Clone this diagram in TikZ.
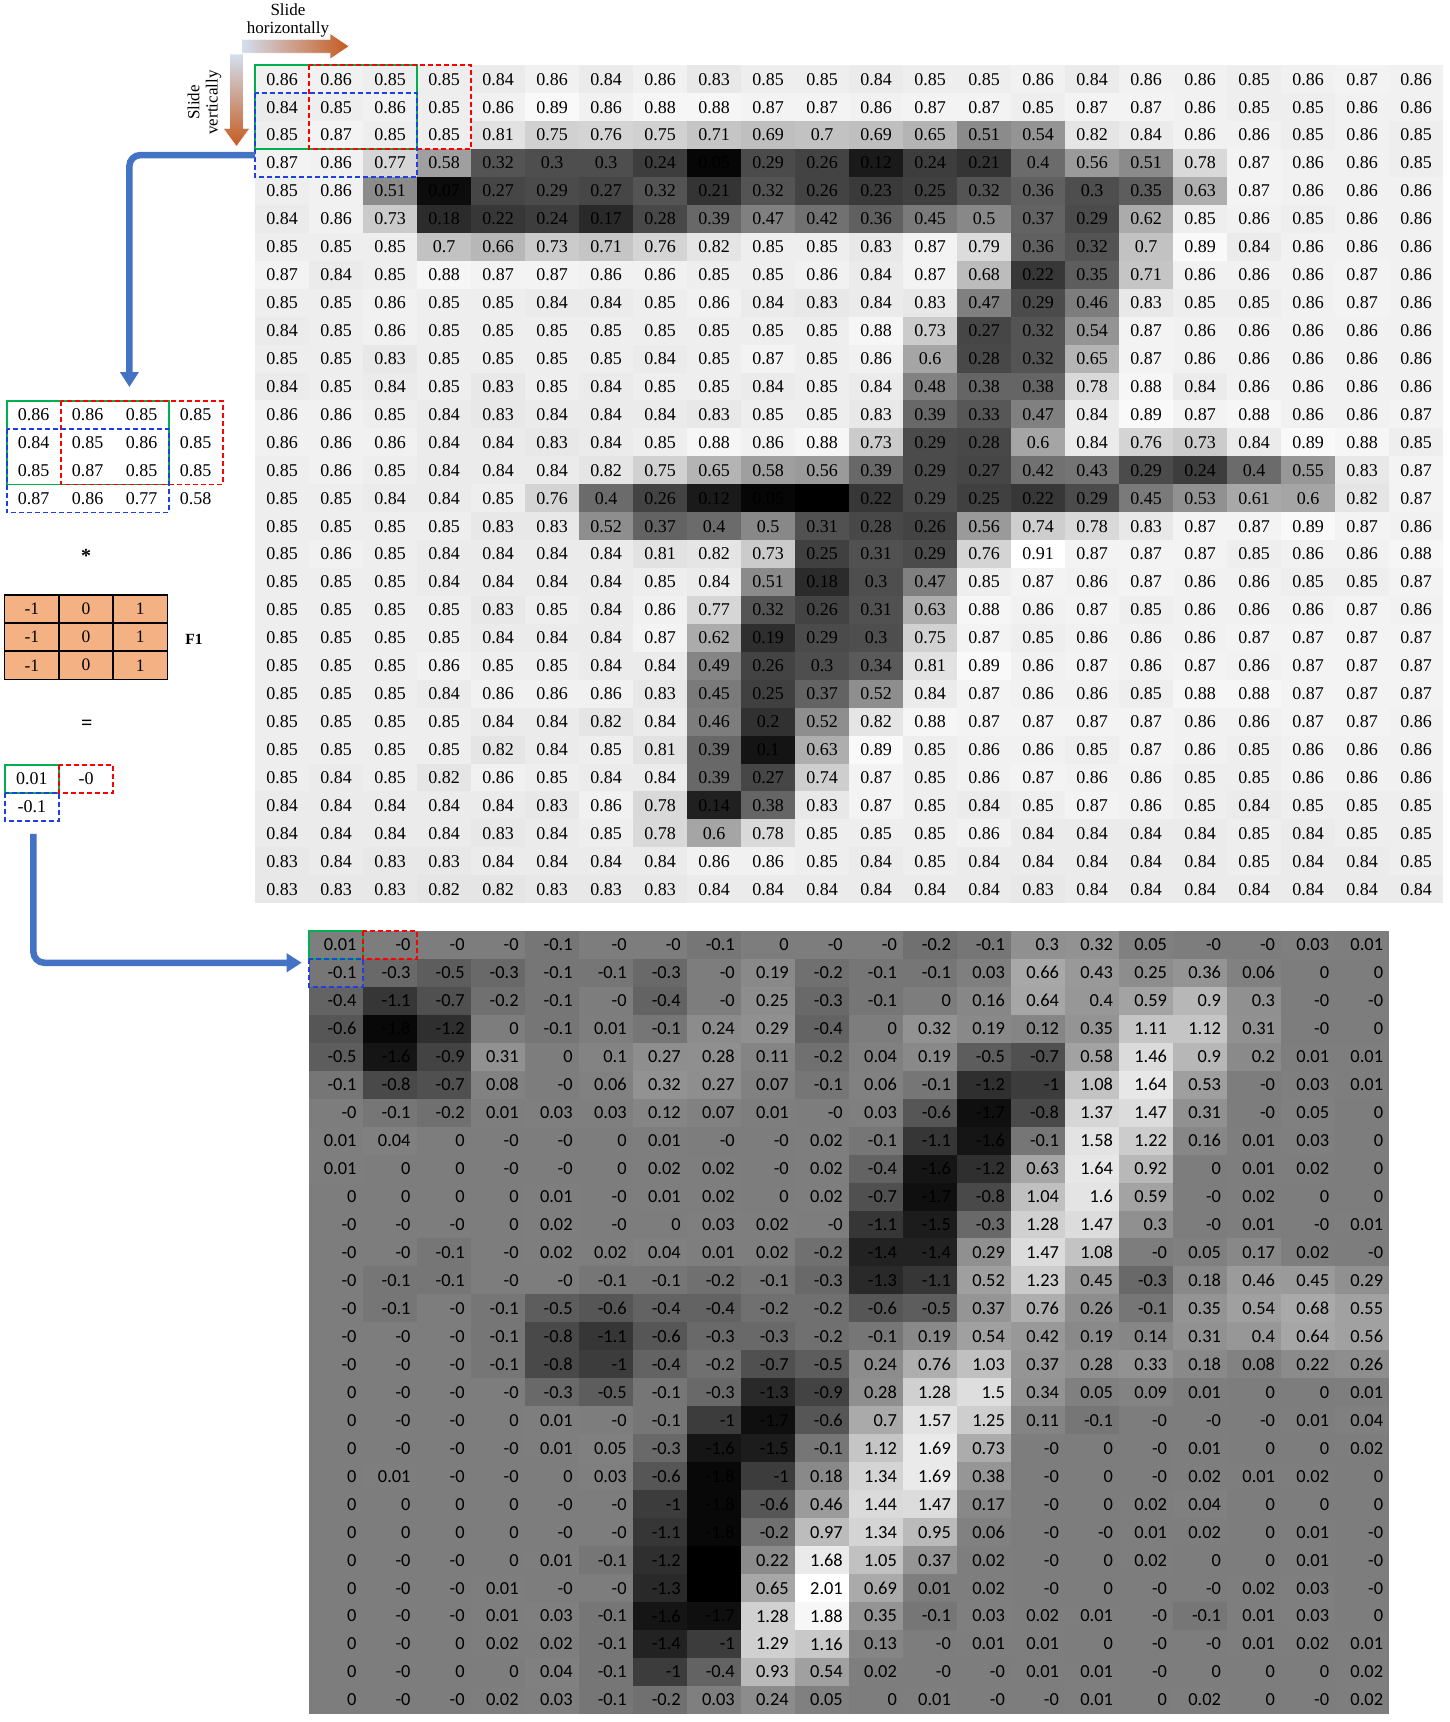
\documentclass[tikz,border=0pt]{standalone}
\usepackage{fontspec}
\setmainfont{Liberation Serif}
\newfontfamily\calib{Carlito}
\usetikzlibrary{arrows.meta}
\definecolor{arrowblue}{HTML}{4472C4}
\definecolor{filterc}{HTML}{F4B183}
\definecolor{boxgreen}{HTML}{00B050}
\definecolor{boxred}{HTML}{FF0000}
\definecolor{boxblue}{HTML}{1F3FE0}
\definecolor{gradlight}{HTML}{D3DFF0}
\definecolor{gradmid}{HTML}{9DB9DF}
\definecolor{gradorange}{HTML}{C55A1E}
\def\hidmark{h}
\def\topdata{%
{0.86,0.86,0.85,0.85,0.84,0.86,0.84,0.86,0.83,0.85,0.85,0.84,0.85,0.85,0.86,0.84,0.86,0.86,0.85,0.86,0.87,0.86},
{0.84,0.85,0.86,0.85,0.86,0.89,0.86,0.88,0.88,0.87,0.87,0.86,0.87,0.87,0.85,0.87,0.87,0.86,0.85,0.85,0.86,0.86},
{0.85,0.87,0.85,0.85,0.81,0.75,0.76,0.75,0.71,0.69,0.7,0.69,0.65,0.51,0.54,0.82,0.84,0.86,0.86,0.85,0.86,0.85},
{0.87,0.86,0.77,0.58,0.32,0.3,0.3,0.24,0.05,0.29,0.26,0.12,0.24,0.21,0.4,0.56,0.51,0.78,0.87,0.86,0.86,0.85},
{0.85,0.86,0.51,0.07,0.27,0.29,0.27,0.32,0.21,0.32,0.26,0.23,0.25,0.32,0.36,0.3,0.35,0.63,0.87,0.86,0.86,0.86},
{0.84,0.86,0.73,0.18,0.22,0.24,0.17,0.28,0.39,0.47,0.42,0.36,0.45,0.5,0.37,0.29,0.62,0.85,0.86,0.85,0.86,0.86},
{0.85,0.85,0.85,0.7,0.66,0.73,0.71,0.76,0.82,0.85,0.85,0.83,0.87,0.79,0.36,0.32,0.7,0.89,0.84,0.86,0.86,0.86},
{0.87,0.84,0.85,0.88,0.87,0.87,0.86,0.86,0.85,0.85,0.86,0.84,0.87,0.68,0.22,0.35,0.71,0.86,0.86,0.86,0.87,0.86},
{0.85,0.85,0.86,0.85,0.85,0.84,0.84,0.85,0.86,0.84,0.83,0.84,0.83,0.47,0.29,0.46,0.83,0.85,0.85,0.86,0.87,0.86},
{0.84,0.85,0.86,0.85,0.85,0.85,0.85,0.85,0.85,0.85,0.85,0.88,0.73,0.27,0.32,0.54,0.87,0.86,0.86,0.86,0.86,0.86},
{0.85,0.85,0.83,0.85,0.85,0.85,0.85,0.84,0.85,0.87,0.85,0.86,0.6,0.28,0.32,0.65,0.87,0.86,0.86,0.86,0.86,0.86},
{0.84,0.85,0.84,0.85,0.83,0.85,0.84,0.85,0.85,0.84,0.85,0.84,0.48,0.38,0.38,0.78,0.88,0.84,0.86,0.86,0.86,0.86},
{0.86,0.86,0.85,0.84,0.83,0.84,0.84,0.84,0.83,0.85,0.85,0.83,0.39,0.33,0.47,0.84,0.89,0.87,0.88,0.86,0.86,0.87},
{0.86,0.86,0.86,0.84,0.84,0.83,0.84,0.85,0.88,0.86,0.88,0.73,0.29,0.28,0.6,0.84,0.76,0.73,0.84,0.89,0.88,0.85},
{0.85,0.86,0.85,0.84,0.84,0.84,0.82,0.75,0.65,0.58,0.56,0.39,0.29,0.27,0.42,0.43,0.29,0.24,0.4,0.55,0.83,0.87},
{0.85,0.85,0.84,0.84,0.85,0.76,0.4,0.26,0.12,0.05,h,0.22,0.29,0.25,0.22,0.29,0.45,0.53,0.61,0.6,0.82,0.87},
{0.85,0.85,0.85,0.85,0.83,0.83,0.52,0.37,0.4,0.5,0.31,0.28,0.26,0.56,0.74,0.78,0.83,0.87,0.87,0.89,0.87,0.86},
{0.85,0.86,0.85,0.84,0.84,0.84,0.84,0.81,0.82,0.73,0.25,0.31,0.29,0.76,0.91,0.87,0.87,0.87,0.85,0.86,0.86,0.88},
{0.85,0.85,0.85,0.84,0.84,0.84,0.84,0.85,0.84,0.51,0.18,0.3,0.47,0.85,0.87,0.86,0.87,0.86,0.86,0.85,0.85,0.87},
{0.85,0.85,0.85,0.85,0.83,0.85,0.84,0.86,0.77,0.32,0.26,0.31,0.63,0.88,0.86,0.87,0.85,0.86,0.86,0.86,0.87,0.86},
{0.85,0.85,0.85,0.85,0.84,0.84,0.84,0.87,0.62,0.19,0.29,0.3,0.75,0.87,0.85,0.86,0.86,0.86,0.87,0.87,0.87,0.87},
{0.85,0.85,0.85,0.86,0.85,0.85,0.84,0.84,0.49,0.26,0.3,0.34,0.81,0.89,0.86,0.87,0.86,0.87,0.86,0.87,0.87,0.87},
{0.85,0.85,0.85,0.84,0.86,0.86,0.86,0.83,0.45,0.25,0.37,0.52,0.84,0.87,0.86,0.86,0.85,0.88,0.88,0.87,0.87,0.87},
{0.85,0.85,0.85,0.85,0.84,0.84,0.82,0.84,0.46,0.2,0.52,0.82,0.88,0.87,0.87,0.87,0.87,0.86,0.86,0.87,0.87,0.86},
{0.85,0.85,0.85,0.85,0.82,0.84,0.85,0.81,0.39,0.1,0.63,0.89,0.85,0.86,0.86,0.85,0.87,0.86,0.85,0.86,0.86,0.86},
{0.85,0.84,0.85,0.82,0.86,0.85,0.84,0.84,0.39,0.27,0.74,0.87,0.85,0.86,0.87,0.86,0.86,0.85,0.85,0.86,0.86,0.86},
{0.84,0.84,0.84,0.84,0.84,0.83,0.86,0.78,0.14,0.38,0.83,0.87,0.85,0.84,0.85,0.87,0.86,0.85,0.84,0.85,0.85,0.85},
{0.84,0.84,0.84,0.84,0.83,0.84,0.85,0.78,0.6,0.78,0.85,0.85,0.85,0.86,0.84,0.84,0.84,0.84,0.85,0.84,0.85,0.85},
{0.83,0.84,0.83,0.83,0.84,0.84,0.84,0.84,0.86,0.86,0.85,0.84,0.85,0.84,0.84,0.84,0.84,0.84,0.85,0.84,0.84,0.85},
{0.83,0.83,0.83,0.82,0.82,0.83,0.83,0.83,0.84,0.84,0.84,0.84,0.84,0.84,0.83,0.84,0.84,0.84,0.84,0.84,0.84,0.84}}
\def\botdata{%
{0.01,-0,-0,-0,-0.1,-0,-0,-0.1,0,-0,-0,-0.2,-0.1,0.3,0.32,0.05,-0,-0,0.03,0.01},
{-0.1,-0.3,-0.5,-0.3,-0.1,-0.1,-0.3,-0,0.19,-0.2,-0.1,-0.1,0.03,0.66,0.43,0.25,0.36,0.06,0,0},
{-0.4,-1.1,-0.7,-0.2,-0.1,-0,-0.4,-0,0.25,-0.3,-0.1,0,0.16,0.64,0.4,0.59,0.9,0.3,-0,-0},
{-0.6,-1.8,-1.2,0,-0.1,0.01,-0.1,0.24,0.29,-0.4,0,0.32,0.19,0.12,0.35,1.11,1.12,0.31,-0,0},
{-0.5,-1.6,-0.9,0.31,0,0.1,0.27,0.28,0.11,-0.2,0.04,0.19,-0.5,-0.7,0.58,1.46,0.9,0.2,0.01,0.01},
{-0.1,-0.8,-0.7,0.08,-0,0.06,0.32,0.27,0.07,-0.1,0.06,-0.1,-1.2,-1,1.08,1.64,0.53,-0,0.03,0.01},
{-0,-0.1,-0.2,0.01,0.03,0.03,0.12,0.07,0.01,-0,0.03,-0.6,-1.7,-0.8,1.37,1.47,0.31,-0,0.05,0},
{0.01,0.04,0,-0,-0,0,0.01,-0,-0,0.02,-0.1,-1.1,-1.6,-0.1,1.58,1.22,0.16,0.01,0.03,0},
{0.01,0,0,-0,-0,0,0.02,0.02,-0,0.02,-0.4,-1.6,-1.2,0.63,1.64,0.92,0,0.01,0.02,0},
{0,0,0,0,0.01,-0,0.01,0.02,0,0.02,-0.7,-1.7,-0.8,1.04,1.6,0.59,-0,0.02,0,0},
{-0,-0,-0,0,0.02,-0,0,0.03,0.02,-0,-1.1,-1.5,-0.3,1.28,1.47,0.3,-0,0.01,-0,0.01},
{-0,-0,-0.1,-0,0.02,0.02,0.04,0.01,0.02,-0.2,-1.4,-1.4,0.29,1.47,1.08,-0,0.05,0.17,0.02,-0},
{-0,-0.1,-0.1,-0,-0,-0.1,-0.1,-0.2,-0.1,-0.3,-1.3,-1.1,0.52,1.23,0.45,-0.3,0.18,0.46,0.45,0.29},
{-0,-0.1,-0,-0.1,-0.5,-0.6,-0.4,-0.4,-0.2,-0.2,-0.6,-0.5,0.37,0.76,0.26,-0.1,0.35,0.54,0.68,0.55},
{-0,-0,-0,-0.1,-0.8,-1.1,-0.6,-0.3,-0.3,-0.2,-0.1,0.19,0.54,0.42,0.19,0.14,0.31,0.4,0.64,0.56},
{-0,-0,-0,-0.1,-0.8,-1,-0.4,-0.2,-0.7,-0.5,0.24,0.76,1.03,0.37,0.28,0.33,0.18,0.08,0.22,0.26},
{0,-0,-0,-0,-0.3,-0.5,-0.1,-0.3,-1.3,-0.9,0.28,1.28,1.5,0.34,0.05,0.09,0.01,0,0,0.01},
{0,-0,-0,0,0.01,-0,-0.1,-1,-1.7,-0.6,0.7,1.57,1.25,0.11,-0.1,-0,-0,-0,0.01,0.04},
{0,-0,-0,-0,0.01,0.05,-0.3,-1.6,-1.5,-0.1,1.12,1.69,0.73,-0,0,-0,0.01,0,0,0.02},
{0,0.01,-0,-0,0,0.03,-0.6,-1.8,-1,0.18,1.34,1.69,0.38,-0,0,-0,0.02,0.01,0.02,0},
{0,0,0,0,-0,-0,-1,-1.8,-0.6,0.46,1.44,1.47,0.17,-0,0,0.02,0.04,0,0,0},
{0,0,0,0,-0,-0,-1.1,-1.8,-0.2,0.97,1.34,0.95,0.06,-0,-0,0.01,0.02,0,0.01,-0},
{0,-0,-0,0,0.01,-0.1,-1.2,h,0.22,1.68,1.05,0.37,0.02,-0,0,0.02,0,0,0.01,-0},
{0,-0,-0,0.01,-0,-0,-1.3,h,0.65,2.01,0.69,0.01,0.02,-0,0,-0,-0,0.02,0.03,-0},
{0,-0,-0,0.01,0.03,-0.1,-1.6,-1.7,1.28,1.88,0.35,-0.1,0.03,0.02,0.01,-0,-0.1,0.01,0.03,0},
{0,-0,0,0.02,0.02,-0.1,-1.4,-1,1.29,1.16,0.13,-0,0.01,0.01,0,-0,-0,0.01,0.02,0.01},
{0,-0,0,0,0.04,-0.1,-1,-0.4,0.93,0.54,0.02,-0,-0,0.01,0.01,-0,0,0,0,0.02},
{0,-0,-0,0.02,0.03,-0.1,-0.2,0.03,0.24,0.05,0,0.01,-0,-0,0.01,0,0.02,0,-0,0.02}}
\begin{document}
\begin{tikzpicture}[x=1pt,y=-1pt,
  tcell/.style={minimum width=54pt, minimum height=27.93pt, inner sep=0pt, outer sep=0pt, font=\fontsize{18pt}{20pt}\selectfont},
  bcell/.style={minimum width=54.03pt, minimum height=27.97pt, inner sep=0pt, outer sep=0pt},
  btext/.style={inner sep=0pt, anchor=east, font=\calib\fontsize{18.4pt}{20pt}\selectfont},
  fcell/.style={minimum width=54.2pt, minimum height=28.1pt, inner sep=0pt, fill=filterc, draw=black, line width=1.5pt, font=\fontsize{17.5pt}{20pt}\selectfont},
  greenbox/.style={draw=boxgreen, line width=1.8pt},
  redbox/.style={draw=boxred, line width=1.8pt, dash pattern=on 5pt off 3pt},
  bluebox/.style={draw=boxblue, line width=1.8pt, dash pattern=on 5pt off 3pt},
  bigarrow/.style={draw=arrowblue, line width=6.5pt, rounded corners=11pt, -{Triangle[width=18pt,length=15pt]}},
  lbl/.style={align=center, font=\fontsize{17pt}{18.3pt}\selectfont, inner sep=0pt},
  opsym/.style={font=\bfseries\fontsize{20pt}{22pt}\selectfont, inner sep=0pt},
  gradarrow/.style={draw=white, line width=0.7pt}
]
\useasboundingbox (0,0) rectangle (1450,1722);
\fill[white] (0,0) rectangle (1450,1722);

% ---- top input grid ----
\foreach \rowv [count=\r] in \topdata {
  \foreach \v [count=\c] in \rowv {
    \edef\tmpv{\v}%
    \ifx\tmpv\hidmark
      \def\bk{100}\def\txt{}%
    \else
      \pgfmathsetmacro\bk{max(0,min(100,100*(0.91-(\v))/0.88))}%
      \let\txt\v
    \fi
    \node[tcell, fill=black!\bk] (t-\r-\c) at ({255+(\c-0.5)*54},{65.3+(\r-0.5)*27.93}) {\txt};
  }
}

% ---- bottom output grid ----
\foreach \rowv [count=\r] in \botdata {
  \foreach \v [count=\c] in \rowv {
    \edef\tmpv{\v}%
    \ifx\tmpv\hidmark
      \def\bk{100}\def\txt{}%
    \else
      \pgfmathsetmacro\bk{max(0,min(100,100*(2.01-(\v))/3.94))}%
      \let\txt\v
    \fi
    \node[bcell, fill=black!\bk] (b-\r-\c) at ({308.7+(\c-0.5)*54.03},{930.8+(\r-0.5)*27.97}) {};
    \node[btext] (bt-\r-\c) at ([xshift=-6pt]b-\r-\c.east) {\txt};
  }
}

% ---- highlight boxes on top grid ----
\draw[greenbox] (t-1-1.north west) rectangle (t-3-3.south east);
\draw[redbox] (t-1-2.north west) rectangle (t-3-4.south east);
\draw[bluebox] (t-2-1.north west) rectangle (t-4-3.south east);

% ---- highlight boxes on bottom grid ----
\draw[greenbox] (b-1-1.north west) rectangle (b-1-1.south east);
\draw[redbox] (b-1-2.north west) rectangle (b-1-2.south east);
\draw[bluebox] (b-2-1.north west) rectangle (b-2-1.south east);

% ---- left: extracted patch ----
\foreach \rowv [count=\r] in {{0.86,0.86,0.85,0.85},{0.84,0.85,0.86,0.85},{0.85,0.87,0.85,0.85},{0.87,0.86,0.77,0.58}} {
  \foreach \v [count=\c] in \rowv {
    \node[tcell] (l-\r-\c) at ({6.7+(\c-0.5)*54},{400.7+(\r-0.5)*27.93}) {\v};
  }
}
\draw[greenbox] (l-1-1.north west) rectangle (l-3-3.south east);
\draw[redbox] (l-1-2.north west) rectangle (l-3-4.south east);
\draw[bluebox] (l-2-1.north west) rectangle (l-4-3.south east);

\node[opsym] (star) at (86,556) {*};

% ---- filter ----
\foreach \r in {1,2,3} {
  \node[fcell] (f-\r-1) at ({4.7+27.1},{595+14.05+(\r-1)*28.1}) {-1};
  \node[fcell] (f-\r-2) at ({4.7+27.1+54.2},{595+14.05+(\r-1)*28.1}) {0};
  \node[fcell] (f-\r-3) at ({4.7+27.1+108.4},{595+14.05+(\r-1)*28.1}) {1};
}
\node[font=\bfseries\fontsize{15.5pt}{18pt}\selectfont, inner sep=0pt] (f1) at (194,639.3) {F1};

\node[opsym] (eq) at (86.7,724.5) {=};

% ---- result patch ----
\node[tcell, minimum width=54.3pt, minimum height=27.9pt] (res-1-1) at (31.85,778.9) {0.01};
\node[tcell, minimum width=54.3pt, minimum height=27.9pt] (res-1-2) at (86.15,778.9) {-0};
\node[tcell, minimum width=54.3pt, minimum height=27.9pt] (res-2-1) at (31.85,806.8) {-0.1};
\draw[greenbox] (res-1-1.north west) rectangle (res-1-1.south east);
\draw[redbox] (res-1-2.north west) rectangle (res-1-2.south east);
\draw[bluebox] (res-2-1.north west) rectangle (res-2-1.south east);

% ---- connectors ----
\coordinate (a1s) at ([yshift=8pt]t-4-1.west);
\coordinate (a1e) at (129.4,387);
\draw[bigarrow] (a1s) -| (a1e);

\coordinate (a2s) at ([xshift=1.5pt,yshift=-13pt]res-2-1.south);
\coordinate (a2e) at ([xshift=-7pt,yshift=10pt]b-2-1.west);
\draw[bigarrow] (a2s) |- (a2e);

% ---- sliding arrows ----
\shade[left color=gradlight, middle color=gradmid, right color=gradorange, gradarrow]
  (241.5,39.3) -- (330,39.3) -- (330,33.3) -- (349.3,46.3) -- (330,59.3) -- (330,53.3) -- (241.5,53.3) -- cycle;
\shade[top color=gradlight, middle color=gradmid, bottom color=gradorange, gradarrow]
  (229.5,54) -- (243.5,54) -- (243.5,128.3) -- (250,128.3) -- (236.5,146.7) -- (223,128.3) -- (229.5,128.3) -- cycle;

\node[lbl] (lblh) at (288,20.5) {Slide\\horizontally};
\node[lbl, rotate=90] (lblv) at (204.5,102.5) {Slide\\vertically};
\end{tikzpicture}
\end{document}
